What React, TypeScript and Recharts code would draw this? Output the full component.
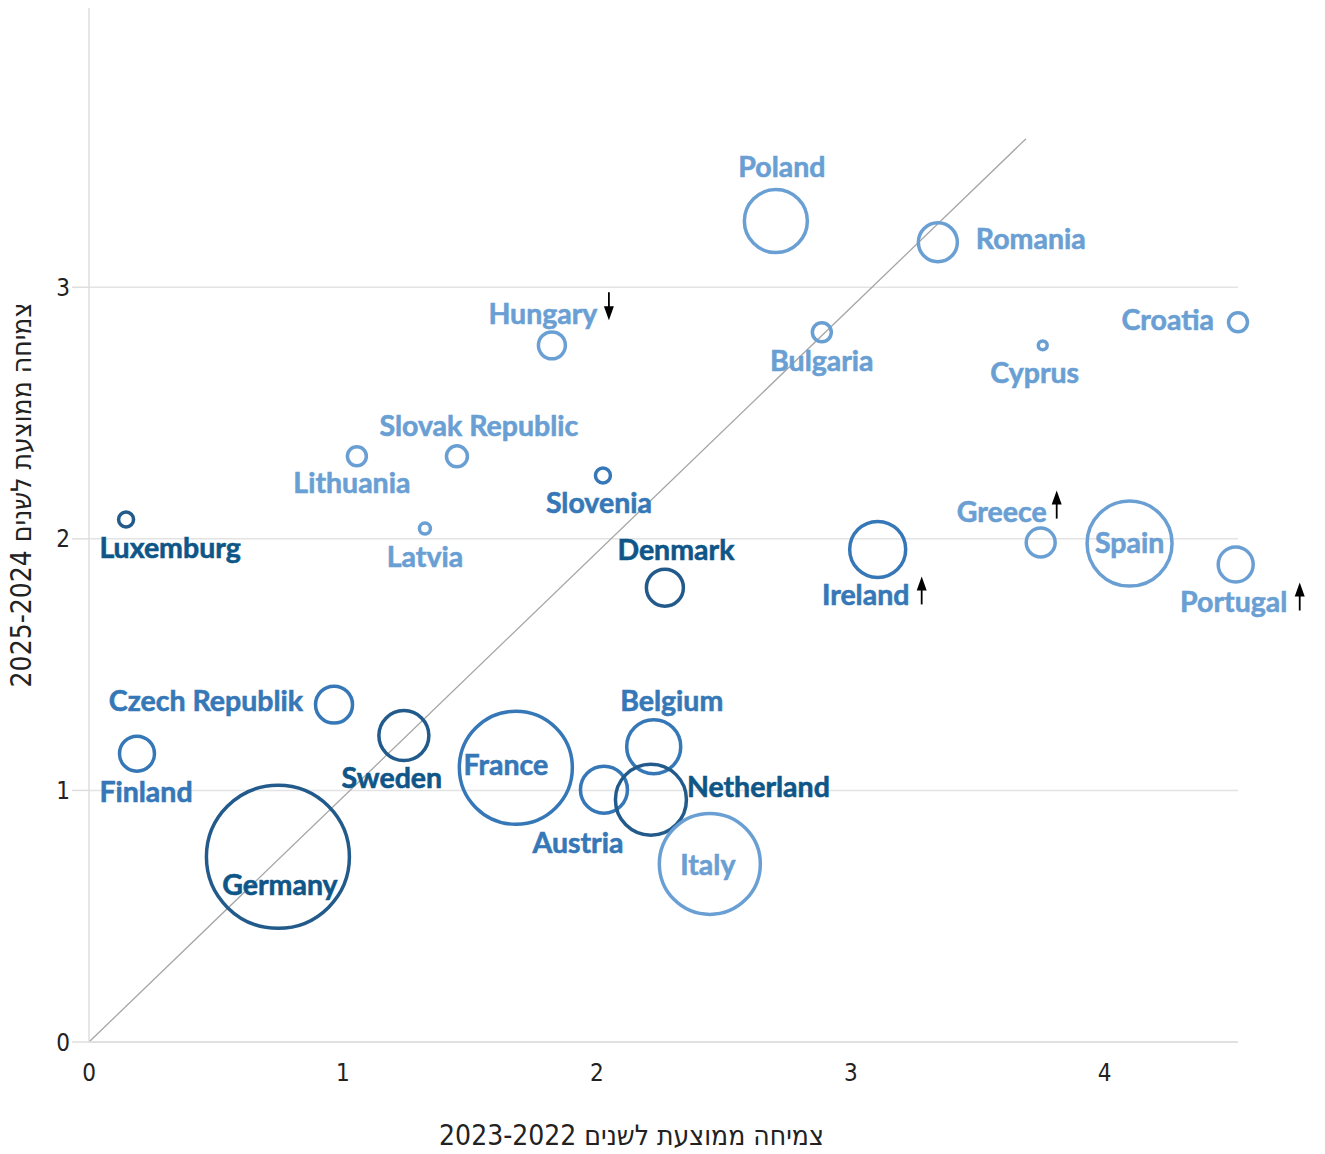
import React from 'react';
import { ScatterChart, Scatter, XAxis, YAxis, ZAxis, CartesianGrid, ReferenceLine, Label } from 'recharts';

// ---- data ----
const countries = [
  'Poland', 'Romania', 'Bulgaria', 'Cyprus', 'Croatia', 'Hungary', 'Slovak Republic', 'Lithuania',
  'Slovenia', 'Latvia', 'Luxemburg', 'Denmark', 'Ireland', 'Greece', 'Spain', 'Portugal',
  'Czech Republik', 'Finland', 'Sweden', 'France', 'Belgium', 'Austria', 'Netherland', 'Italy', 'Germany',
];
// average growth 2022-2023 (x)
const growth2223 = [
  2.705, 3.343, 2.886, 3.756, 4.525, 1.823, 1.449, 1.055,
  2.024, 1.323, 0.146, 2.268, 3.106, 3.748, 4.098, 4.516,
  0.965, 0.189, 1.240, 1.681, 2.224, 2.028, 2.213, 2.445, 0.744,
];
// average growth 2024-2025 (y)
const growth2425 = [
  3.263, 3.179, 2.821, 2.769, 2.861, 2.769, 2.328, 2.328,
  2.252, 2.041, 2.077, 1.806, 1.958, 1.985, 1.981, 1.898,
  1.341, 1.146, 1.218, 1.090, 1.174, 1.003, 0.963, 0.708, 0.736,
];
// relative economy size (bubble area)
const economySize = [
  992, 380, 90, 20, 90, 182, 110, 90,
  56, 30, 56, 342, 784, 210, 1806, 306,
  342, 306, 625, 3192, 729, 552, 1260, 2550, 5112,
];
// colour group
const group = [
  'light', 'light', 'light', 'light', 'light', 'light', 'light', 'light',
  'mid', 'light', 'dark', 'dark', 'mid', 'light', 'light', 'light',
  'mid', 'mid', 'dark', 'mid', 'mid', 'mid', 'dark', 'light', 'dark',
];
// forecast revision arrow
const revision = [
  '', '', '', '', '', 'down', '', '',
  '', '', '', '', 'up', 'up', '', 'up',
  '', '', '', '', '', '', '', '', '',
];
const xTicks = [0, 1, 2, 3, 4];
const yTicks = [0, 1, 2, 3];
const xTitle = 'צמיחה ממוצעת לשנים 2023-2022';
const yTitle = 'צמיחה ממוצעת לשנים 2025-2024';

const data = countries.map((name, i) => ({
  name,
  x: growth2223[i],
  y: growth2425[i],
  z: economySize[i],
  group: group[i],
  revision: revision[i],
}));

// ---- styles / layout ----
const circleColor: Record<string, string> = { light: '#6a9fd4', mid: '#3678b7', dark: '#225b8b' };
const textColor: Record<string, string> = { light: '#6a9fd4', mid: '#3678b7', dark: '#0f5688' };

type LabelPos = { anchor: 'start' | 'middle' | 'end'; dx: number; dy: number; adx?: number; ady?: number };
const labelLayout: Record<string, LabelPos> = {
  Poland: { anchor: 'middle', dx: 6, dy: -55 },
  Romania: { anchor: 'start', dx: 38, dy: -4 },
  Bulgaria: { anchor: 'middle', dx: 0, dy: 28 },
  Cyprus: { anchor: 'middle', dx: -8, dy: 27 },
  Croatia: { anchor: 'end', dx: -24, dy: -3 },
  Hungary: { anchor: 'middle', dx: -9, dy: -32, adx: 57, ady: -39 },
  'Slovak Republic': { anchor: 'middle', dx: 22, dy: -31 },
  Lithuania: { anchor: 'middle', dx: -5, dy: 26 },
  Slovenia: { anchor: 'middle', dx: -4, dy: 27 },
  Latvia: { anchor: 'middle', dx: 0, dy: 27 },
  Luxemburg: { anchor: 'middle', dx: 44, dy: 28 },
  Denmark: { anchor: 'middle', dx: 11, dy: -39 },
  Ireland: { anchor: 'middle', dx: -12, dy: 45, adx: 44, ady: 41 },
  Greece: { anchor: 'middle', dx: -39, dy: -32, adx: 16, ady: -38 },
  Spain: { anchor: 'middle', dx: 0, dy: -2 },
  Portugal: { anchor: 'middle', dx: -2, dy: 37, adx: 64, ady: 32 },
  'Czech Republik': { anchor: 'end', dx: -31, dy: -5 },
  Finland: { anchor: 'middle', dx: 9, dy: 37 },
  Sweden: { anchor: 'middle', dx: -12, dy: 41 },
  France: { anchor: 'middle', dx: -10, dy: -4 },
  Belgium: { anchor: 'middle', dx: 18, dy: -47 },
  Austria: { anchor: 'middle', dx: -26, dy: 52 },
  Netherland: { anchor: 'start', dx: 36, dy: -14 },
  Italy: { anchor: 'middle', dx: -2, dy: 0 },
  Germany: { anchor: 'middle', dx: 2, dy: 27 },
};

const labelFont = "Lato, 'Open Sans', sans-serif";
const narrowFont = "'Liberation Sans Narrow', 'DejaVu Sans Condensed', 'Noto Sans', sans-serif";

const Bubble = (props: any) => {
  const { cx, cy, width, size, payload } = props;
  if (cx == null || cy == null) return null;
  const r = width ? width / 2 : Math.sqrt((size || 0) / Math.PI);
  return (
    <circle cx={cx} cy={cy} r={r} fill="none" stroke={circleColor[payload.group]} strokeWidth={3.5} />
  );
};

const Arrow = ({ x, y, dir }: { x: number; y: number; dir: string }) => {
  const s = dir === 'up' ? -1 : 1;
  const tip = y + s * 14;
  const tail = y - s * 14;
  const base = tip - s * 14;
  return (
    <g>
      <line x1={x} y1={tail} x2={x} y2={base + s * 2} stroke="#000" strokeWidth={1.8} />
      <path d={`M ${x} ${tip} L ${x - 5} ${base} L ${x + 5} ${base} Z`} fill="#000" />
    </g>
  );
};

const BubbleLabel = (props: any) => {
  const { cx, cy, payload } = props;
  if (cx == null || cy == null) return null;
  const l = labelLayout[payload.name];
  const col = textColor[payload.group];
  return (
    <g>
      <text
        x={cx + l.dx}
        y={cy + l.dy}
        textAnchor={l.anchor}
        dominantBaseline="central"
        fontFamily={labelFont}
        fontWeight={700}
        fontSize={28.5}
        fill={col}
        stroke={col}
        strokeWidth={0.6}
      >
        {payload.name}
      </text>
      {payload.revision && l.adx != null ? (
        <Arrow x={cx + l.adx} y={cy + (l.ady || 0)} dir={payload.revision} />
      ) : null}
    </g>
  );
};

export default function App() {
  return (
    <div style={{ position: 'relative', left: -8, top: -8, width: 1325, height: 1154 }}>
      <ScatterChart width={1325} height={1154} margin={{ top: 8, right: 87, bottom: 0, left: 0 }}>
        <CartesianGrid
          horizontal
          vertical={false}
          horizontalValues={yTicks}
          stroke="#e3e3e3"
          strokeWidth={1.5}
        />
        <XAxis
          type="number"
          dataKey="x"
          domain={[0, 4.525]}
          ticks={xTicks}
          height={112}
          axisLine={{ stroke: '#dedede', strokeWidth: 1.5 }}
          tickLine={false}
          tickSize={14}
          tickMargin={8}
          tick={{ fill: '#222', fontSize: 24, fontFamily: narrowFont }}
        >
          <Label
            content={(p: any) => {
              const vb = p.viewBox || {};
              return (
                <text
                  x={vb.x + vb.width / 2 - 32}
                  y={1135}
                  textAnchor="middle"
                  dominantBaseline="central"
                  direction="rtl"
                  fontFamily={narrowFont}
                  fontSize={28}
                  fill="#222"
                >
                  {xTitle}
                </text>
              );
            }}
          />
        </XAxis>
        <YAxis
          type="number"
          dataKey="y"
          domain={[0, 4.11]}
          ticks={yTicks}
          width={89}
          axisLine={{ stroke: '#dedede', strokeWidth: 1.5 }}
          tickLine={{ stroke: '#dedede', strokeWidth: 1.5 }}
          tickSize={17}
          tickMargin={2}
          tick={{ fill: '#222', fontSize: 24, fontFamily: narrowFont }}
        >
          <Label
            content={(p: any) => {
              const vb = p.viewBox || {};
              const cy = vb.y + vb.height / 2 - 30;
              return (
                <text
                  x={21}
                  y={cy}
                  transform={`rotate(-90, 21, ${cy})`}
                  textAnchor="middle"
                  dominantBaseline="central"
                  direction="rtl"
                  fontFamily={narrowFont}
                  fontSize={28}
                  fill="#222"
                >
                  {yTitle}
                </text>
              );
            }}
          />
        </YAxis>
        <ZAxis type="number" dataKey="z" domain={[0, 5112]} range={[0, Math.PI * 5112]} />
        <ReferenceLine
          segment={[{ x: 0, y: 0 }, { x: 3.69, y: 3.59 }]}
          stroke="#a6a6a6"
          strokeWidth={1.3}
          ifOverflow="visible"
        />
        <Scatter data={data} shape={<Bubble />} isAnimationActive={false} />
        <Scatter data={data} shape={<BubbleLabel />} isAnimationActive={false} legendType="none" />
      </ScatterChart>
    </div>
  );
}
